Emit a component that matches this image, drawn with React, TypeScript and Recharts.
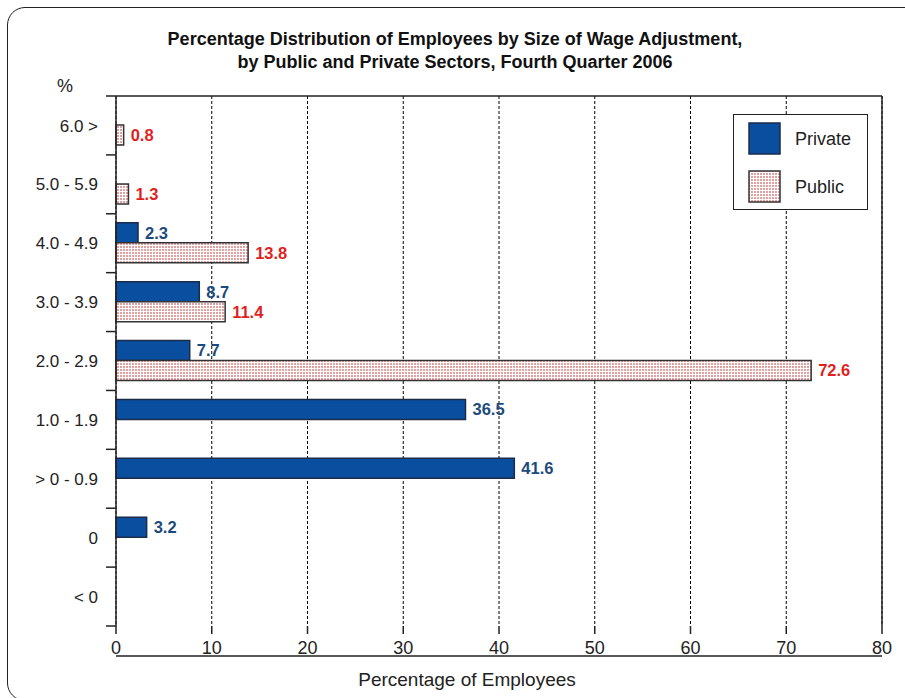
import React from "react";
import {
  BarChart,
  Bar,
  XAxis,
  YAxis,
  CartesianGrid,
  ReferenceLine,
  LabelList,
} from "recharts";

// wage adjustment bands, top to bottom
const categories = [
  "6.0 >",
  "5.0 - 5.9",
  "4.0 - 4.9",
  "3.0 - 3.9",
  "2.0 - 2.9",
  "1.0 - 1.9",
  "> 0 - 0.9",
  "0",
  "< 0",
];
const privateValues = [null, null, 2.3, 8.7, 7.7, 36.5, 41.6, 3.2, null];
const publicValues = [0.8, 1.3, 13.8, 11.4, 72.6, null, null, null, null];

const xTicks = [0, 10, 20, 30, 40, 50, 60, 70, 80];
const minorTicks = Array.from({ length: 41 }, (_, i) => i * 2);

const FONT = "'Liberation Sans', Arial, sans-serif";
const PRIVATE_FILL = "#0a4ea0";
const PRIVATE_TEXT = "#1d4a7c";
const PUBLIC_TEXT = "#e01f1f";
const INK = "#222";

const data = categories.map((name, i) => ({
  name,
  private: privateValues[i],
  public: publicValues[i],
}));

function valueLabel(color: string) {
  return (props: any) => {
    const { x, y, width, height, value } = props;
    if (value === null || value === undefined) return null;
    return (
      <text
        x={Number(x) + Number(width) + 7}
        y={Number(y) + Number(height) / 2}
        dy="0.36em"
        fill={color}
        fontSize={16.5}
        fontWeight="bold"
        fontFamily={FONT}
      >
        {Number(value).toFixed(1)}
      </text>
    );
  };
}

// category label plus tick marks on the band boundaries
function CategoryTick(props: any) {
  const { x, y, payload, index } = props;
  const half = Number(payload?.offset) || 0;
  const axisX = x + 18;
  const last = index === categories.length - 1;
  return (
    <g>
      <text x={x} y={y} dy="0.36em" textAnchor="end" fontSize={17} fill={INK} fontFamily={FONT}>
        {payload.value}
      </text>
      <line x1={axisX - 10} x2={axisX} y1={y - half} y2={y - half} stroke={INK} strokeWidth={1.5} />
      {last && (
        <line x1={axisX - 10} x2={axisX} y1={y + half} y2={y + half} stroke={INK} strokeWidth={1.5} />
      )}
    </g>
  );
}

function LegendBox() {
  const items = [
    { label: "Private", fill: PRIVATE_FILL, stroke: "#1b2b48" },
    { label: "Public", fill: "url(#pubDots)", stroke: "#333" },
  ];
  return (
    <div
      style={{
        position: "absolute",
        left: 733,
        top: 114,
        width: 135,
        height: 96,
        border: "1px solid " + INK,
        background: "#fff",
        boxSizing: "border-box",
        paddingTop: 7,
      }}
    >
      {items.map((it, i) => (
        <div
          key={it.label}
          style={{ display: "flex", alignItems: "center", height: 34, marginTop: i === 1 ? 14 : 0 }}
        >
          <svg width={34} height={34} style={{ marginLeft: 14 }}>
            <rect x={1} y={1} width={31} height={31} fill={it.fill} stroke={it.stroke} strokeWidth={1.5} />
          </svg>
          <span style={{ marginLeft: 13, fontSize: 18, color: INK }}>{it.label}</span>
        </div>
      ))}
    </div>
  );
}

export default function App() {
  return (
    <div
      style={{
        position: "absolute",
        left: 0,
        top: 0,
        width: 905,
        height: 698,
        overflow: "hidden",
        background: "#fff",
        fontFamily: FONT,
      }}
    >
      <div
        style={{
          position: "absolute",
          left: 7,
          top: 7,
          width: 920,
          height: 692,
          border: "1.5px solid " + INK,
          borderRadius: 18,
        }}
      />
      <div
        style={{
          position: "absolute",
          left: 0,
          width: 910,
          top: 28,
          textAlign: "center",
          fontSize: 18,
          fontWeight: "bold",
          lineHeight: "23px",
          color: "#111",
        }}
      >
        Percentage Distribution of Employees by Size of Wage Adjustment,
        <br />
        by Public and Private Sectors, Fourth Quarter 2006
      </div>
      <div style={{ position: "absolute", left: 57, top: 76, fontSize: 18, color: INK }}>%</div>
      <div
        style={{
          position: "absolute",
          left: 116,
          width: 702,
          top: 669,
          textAlign: "center",
          fontSize: 19,
          color: INK,
        }}
      >
        Percentage of Employees
      </div>

      <div style={{ position: "absolute", left: 0, top: 0 }}>
        <BarChart
          width={905}
          height={698}
          data={data}
          layout="vertical"
          margin={{ top: 95, right: 23, bottom: 41, left: 16 }}
          barGap={0}
        >
          <defs>
            <pattern id="pubDots" width={3} height={3} patternUnits="userSpaceOnUse">
              <rect width={3} height={3} fill="#ffffff" />
              <rect width={2} height={2} fill="#e2a0a0" />
            </pattern>
          </defs>
          <CartesianGrid
            xAxisId="main"
            yAxisId="cat"
            horizontal={false}
            stroke="#000"
            strokeDasharray="3 2"
          />
          {/* top edge of the plot frame */}
          <XAxis
            xAxisId="top"
            orientation="top"
            type="number"
            domain={[0, 80]}
            ticks={xTicks}
            height={1}
            tick={() => <g />}
            tickLine={false}
            axisLine={{ stroke: INK, strokeWidth: 1.5 }}
          />
          {/* minor ticks every 2, also carries the bottom axis line */}
          <XAxis
            xAxisId="minor"
            type="number"
            domain={[0, 80]}
            ticks={minorTicks}
            height={1}
            tickSize={5}
            tick={() => <g />}
            axisLine={{ stroke: INK, strokeWidth: 1.5 }}
            tickLine={{ stroke: INK, strokeWidth: 1.2 }}
          />
          <XAxis
            xAxisId="main"
            type="number"
            domain={[0, 80]}
            ticks={xTicks}
            height={30}
            tickSize={8}
            tickMargin={7}
            axisLine={false}
            tickLine={{ stroke: INK, strokeWidth: 1.5 }}
            tick={{ fontSize: 18, fill: INK, fontFamily: FONT }}
          />
          <YAxis
            yAxisId="cat"
            type="category"
            dataKey="name"
            width={100}
            tickLine={false}
            tickSize={10}
            tickMargin={8}
            axisLine={false}
            tick={<CategoryTick />}
          />
          <ReferenceLine xAxisId="main" yAxisId="cat" x={0} stroke={INK} strokeWidth={1.5} />
          <ReferenceLine xAxisId="main" yAxisId="cat" x={80} stroke={INK} strokeWidth={1.5} />
          <Bar
            xAxisId="main"
            yAxisId="cat"
            dataKey="private"
            name="Private"
            barSize={20}
            fill={PRIVATE_FILL}
            stroke="#1b2b48"
            strokeWidth={1.5}
            isAnimationActive={false}
          >
            <LabelList dataKey="private" content={valueLabel(PRIVATE_TEXT)} />
          </Bar>
          <Bar
            xAxisId="main"
            yAxisId="cat"
            dataKey="public"
            name="Public"
            barSize={20}
            fill="url(#pubDots)"
            stroke="#333"
            strokeWidth={1.5}
            isAnimationActive={false}
          >
            <LabelList dataKey="public" content={valueLabel(PUBLIC_TEXT)} />
          </Bar>
        </BarChart>
      </div>
      <LegendBox />
    </div>
  );
}
